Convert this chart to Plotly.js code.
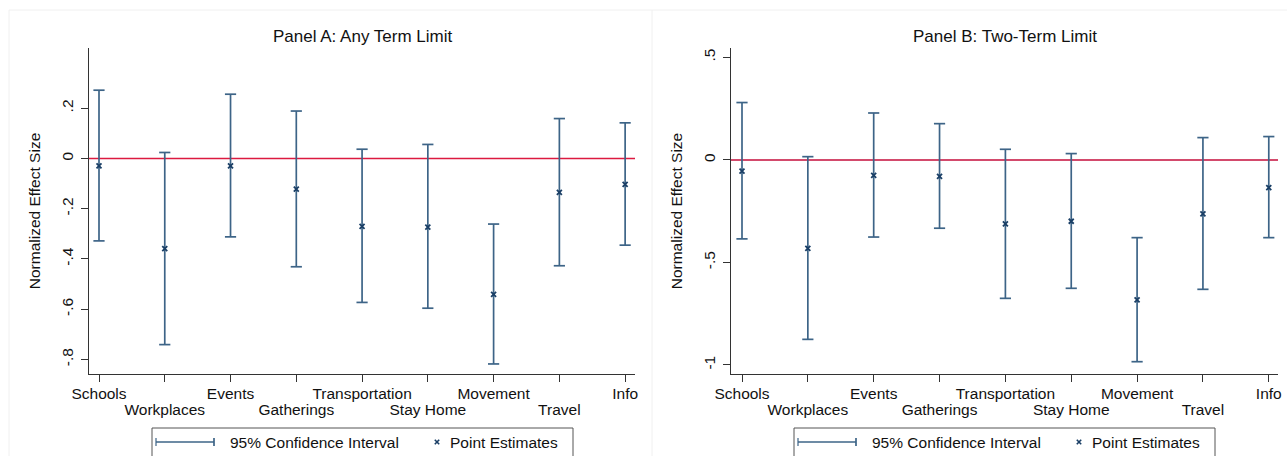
<!DOCTYPE html>
<html>
<head>
<meta charset="utf-8">
<script src="https://cdn.plot.ly/plotly-3.0.1.min.js"></script>
<style>
  html, body { margin: 0; padding: 0; background: #ffffff; }
  #chart { width: 1287px; height: 456px; }
</style>
</head>
<body>
<div id="chart"></div>
<script>
// ---- data ----
const categories = ['Schools', 'Workplaces', 'Events', 'Gatherings', 'Transportation', 'Stay Home', 'Movement', 'Travel', 'Info'];

// Panel A: Any Term Limit
const estA = [-0.029, -0.359, -0.029, -0.122, -0.270, -0.273, -0.541, -0.135, -0.103];
const loA  = [-0.328, -0.741, -0.312, -0.431, -0.573, -0.596, -0.818, -0.427, -0.345];
const hiA  = [ 0.272,  0.024,  0.256,  0.189,  0.037,  0.056, -0.261,  0.159,  0.142];

// Panel B: Two-Term Limit
const estB = [-0.054, -0.431, -0.075, -0.080, -0.312, -0.299, -0.683, -0.263, -0.135];
const loB  = [-0.385, -0.875, -0.376, -0.333, -0.675, -0.626, -0.984, -0.631, -0.379];
const hiB  = [ 0.280,  0.016,  0.229,  0.177,  0.052,  0.031, -0.379,  0.109,  0.114];

const yTickValsA = [-0.8, -0.6, -0.4, -0.2, 0, 0.2];
const yTickTextA = ['-.8', '-.6', '-.4', '-.2', '0', '.2'];
const yTickValsB = [-1, -0.5, 0, 0.5];
const yTickTextB = ['-1', '-.5', '0', '.5'];

const titleA = 'Panel A: Any Term Limit';
const titleB = 'Panel B: Two-Term Limit';
const yTitle = 'Normalized Effect Size';
const ciName = '95% Confidence Interval';
const ptName = 'Point Estimates';

// ---- styling ----
const W = 1287, H = 456;
const FONT = 'Liberation Sans, Arial, Helvetica, sans-serif';
const ciColor = '#3d6487';
const ptColor = '#1a3f66';
const axColor = '#333333';

const px = v => v / W;
const py = v => (H - v) / H;

// staggered x tick labels: even ones on the first row, odd ones on the second row
const evenCats = categories.filter((c, i) => i % 2 === 0);
const oddCats = categories.filter((c, i) => i % 2 === 1);

function segs(lo, hi) {
  const xs = [], ys = [];
  categories.forEach((c, i) => { xs.push(c, c, null); ys.push(lo[i], hi[i], null); });
  return { xs, ys };
}

function panelTraces(est, lo, hi, xa, xaOver, ya) {
  const s = segs(lo, hi);
  return [
    {
      type: 'scatter', mode: 'lines', name: ciName,
      x: s.xs, y: s.ys, xaxis: xa, yaxis: ya,
      line: { color: ciColor, width: 1.7 }, connectgaps: false,
      hoverinfo: 'skip'
    },
    {
      type: 'scatter', mode: 'markers', name: ciName + ' caps',
      x: categories.concat(categories), y: lo.concat(hi), xaxis: xaOver, yaxis: ya,
      marker: { symbol: 'line-ew-open', size: 8, color: ciColor, line: { color: ciColor, width: 1.7 } },
      hoverinfo: 'skip'
    },
    {
      type: 'scatter', mode: 'markers', name: ptName,
      x: categories, y: est, xaxis: xa, yaxis: ya,
      marker: { symbol: 'x-thin-open', size: 5, color: ptColor, line: { color: ptColor, width: 1.8 } },
      hoverinfo: 'skip'
    }
  ];
}

const data = []
  .concat(panelTraces(estA, loA, hiA, 'x', 'x3', 'y'))
  .concat(panelTraces(estB, loB, hiB, 'x2', 'x4', 'y2'));

const yDomain = [py(374), py(48)];

function xAxis(domain, range) {
  return {
    domain: domain, type: 'category', range: range,
    categoryorder: 'array', categoryarray: categories,
    tickmode: 'array', tickvals: categories, ticktext: categories.map((c, i) => (i % 2 ? '' : c)), tickangle: 0,
    showgrid: false, zeroline: false,
    showline: true, linecolor: axColor, linewidth: 1,
    ticks: 'outside', ticklen: 7, tickcolor: axColor, tickwidth: 1,
    ticklabelstandoff: -2,
    tickfont: { family: FONT, size: 15.5, color: '#111' },
    automargin: false, fixedrange: true
  };
}

function xAxisOver(over, anchor, domain, range) {
  return {
    overlaying: over, anchor: anchor, domain: domain, type: 'category', range: range,
    categoryorder: 'array', categoryarray: categories,
    tickmode: 'array', tickvals: oddCats, ticktext: oddCats, tickangle: 0,
    showgrid: false, zeroline: false, showline: false,
    ticks: 'outside', ticklen: 7, tickcolor: 'rgba(0,0,0,0)', tickwidth: 1,
    ticklabelstandoff: 14,
    tickfont: { family: FONT, size: 15.5, color: '#111' },
    automargin: false, fixedrange: true
  };
}

function yAxis(anchor, range, vals, text) {
  return {
    anchor: anchor, domain: yDomain, range: range,
    tickmode: 'array', tickvals: vals, ticktext: text, tickangle: -90,
    showgrid: false, zeroline: false,
    showline: true, linecolor: axColor, linewidth: 1,
    ticks: 'outside', ticklen: 7, tickcolor: axColor, tickwidth: 1,
    ticklabelstandoff: 2,
    tickfont: { family: FONT, size: 15.5, color: '#111' },
    title: { text: yTitle, font: { family: FONT, size: 15.5, color: '#111' }, standoff: 14 },
    automargin: false, fixedrange: true
  };
}

// manual legend (box, CI line with caps, x marker, texts) for a panel offset dx
function legendShapes(dx) {
  const yc = 442;
  const xs = 437 + dx;
  return [
    { type: 'rect', xref: 'paper', yref: 'paper', x0: px(152 + dx), x1: px(573 + dx), y0: py(470), y1: py(428),
      line: { color: '#555555', width: 1 }, fillcolor: '#ffffff', layer: 'above' },
    { type: 'line', xref: 'paper', yref: 'paper', x0: px(156 + dx), x1: px(214 + dx), y0: py(yc), y1: py(yc),
      line: { color: ciColor, width: 1.7 }, layer: 'above' },
    { type: 'line', xref: 'paper', yref: 'paper', x0: px(214 + dx), x1: px(214 + dx), y0: py(yc - 4), y1: py(yc + 4),
      line: { color: ciColor, width: 1.7 }, layer: 'above' },
    { type: 'line', xref: 'paper', yref: 'paper', x0: px(156 + dx), x1: px(156 + dx), y0: py(yc - 4), y1: py(yc + 4),
      line: { color: ciColor, width: 1.2 }, layer: 'above' },
    { type: 'line', xref: 'paper', yref: 'paper', x0: px(xs - 2.2), x1: px(xs + 2.2), y0: py(yc - 2.2), y1: py(yc + 2.2),
      line: { color: ptColor, width: 1.6 }, layer: 'above' },
    { type: 'line', xref: 'paper', yref: 'paper', x0: px(xs - 2.2), x1: px(xs + 2.2), y0: py(yc + 2.2), y1: py(yc - 2.2),
      line: { color: ptColor, width: 1.6 }, layer: 'above' }
  ];
}
function legendAnnots(dx) {
  return [
    { text: ciName, xref: 'paper', yref: 'paper', x: px(228 + dx), y: py(442), xanchor: 'left', yanchor: 'middle',
      showarrow: false, font: { family: FONT, size: 15.5, color: '#111' } },
    { text: ptName, xref: 'paper', yref: 'paper', x: px(448 + dx), y: py(442), xanchor: 'left', yanchor: 'middle',
      showarrow: false, font: { family: FONT, size: 15.5, color: '#111' } }
  ];
}

const DX = 642;
const domA = [px(89), px(635)], rangeA = [-0.152, 8.15];
const domB = [px(731), px(1278)], rangeB = [-0.167, 8.14];

const layout = {
  width: W, height: H,
  margin: { l: 0, r: 0, t: 0, b: 0, pad: 0 },
  paper_bgcolor: '#ffffff', plot_bgcolor: '#ffffff',
  font: { family: FONT, color: '#111' },
  hovermode: false,
  showlegend: false,
  xaxis: xAxis(domA, rangeA),
  yaxis: yAxis('x', [-0.858, 0.44], yTickValsA, yTickTextA),
  xaxis2: xAxis(domB, rangeB),
  yaxis2: yAxis('x2', [-1.044, 0.546], yTickValsB, yTickTextB),
  xaxis3: xAxisOver('x', 'y', domA, rangeA),
  xaxis4: xAxisOver('x2', 'y2', domB, rangeB),
  annotations: [
    { text: titleA, xref: 'paper', yref: 'paper', x: px(362), y: py(36), xanchor: 'center', yanchor: 'middle',
      showarrow: false, font: { family: FONT, size: 17, color: '#111' } },
    { text: titleB, xref: 'paper', yref: 'paper', x: px(1004.5), y: py(36), xanchor: 'center', yanchor: 'middle',
      showarrow: false, font: { family: FONT, size: 17, color: '#111' } }
  ].concat(legendAnnots(0)).concat(legendAnnots(DX)),
  shapes: [
    // faint graph-region borders
    { type: 'line', xref: 'paper', yref: 'paper', x0: px(9), x1: 1, y0: py(10), y1: py(10), line: { color: '#f0f0f0', width: 1 }, layer: 'below' },
    { type: 'line', xref: 'paper', yref: 'paper', x0: px(9), x1: px(9), y0: 0, y1: py(10), line: { color: '#f0f0f0', width: 1 }, layer: 'below' },
    { type: 'line', xref: 'paper', yref: 'paper', x0: px(652), x1: px(652), y0: 0, y1: py(10), line: { color: '#f0f0f0', width: 1 }, layer: 'below' },
    // reference lines at zero
    { type: 'line', xref: 'x domain', yref: 'y', x0: 0, x1: 1, y0: 0, y1: 0, line: { color: '#dc1a40', width: 1.5 }, layer: 'below' },
    { type: 'line', xref: 'x2 domain', yref: 'y2', x0: 0, x1: 1, y0: 0, y1: 0, line: { color: '#d34a6c', width: 2 }, layer: 'below' }
  ].concat(legendShapes(0)).concat(legendShapes(DX))
};

Plotly.newPlot('chart', data, layout, { staticPlot: true, displayModeBar: false });
</script>
</body>
</html>
